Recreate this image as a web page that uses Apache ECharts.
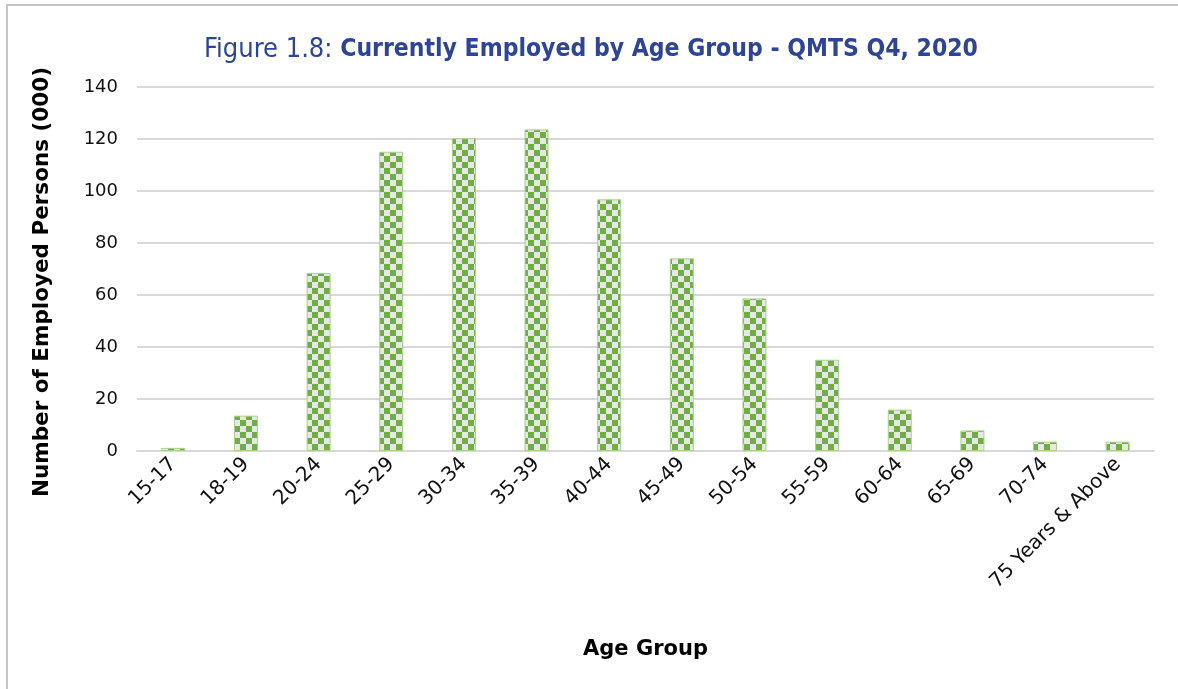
<!DOCTYPE html>
<html>
<head>
<meta charset="utf-8">
<script src="https://cdn.jsdelivr.net/npm/echarts@6/dist/echarts.min.js"></script>
<style>
  html, body { margin: 0; padding: 0; background: #fff; }
  #chart { width: 1178px; height: 689px; }
</style>
</head>
<body>
<div id="chart"></div>
<script>
// 年龄组
const ageGroups = ['15-17', '18-19', '20-24', '25-29', '30-34', '35-39', '40-44',
  '45-49', '50-54', '55-59', '60-64', '65-69', '70-74', '75 Years & Above']
// 就业人数 (000)
const employed = [1.2, 13.6, 68.5, 115.1, 120.3, 123.7, 96.8, 74.1, 58.7, 35.1, 15.9, 7.9, 3.6, 3.6]
const yTicks = [0, 20, 40, 60, 80, 100, 120, 140]

// checkerboard fill for the bars
function checker () {
  const c = document.createElement('canvas')
  c.width = 12
  c.height = 12
  const ctx = c.getContext('2d')
  ctx.fillStyle = '#e6e8e4'
  ctx.fillRect(0, 0, 12, 12)
  ctx.fillStyle = '#70ad47'
  ctx.fillRect(0, 0, 6, 6)
  ctx.fillRect(6, 6, 6, 6)
  return c
}

const font = 'DejaVu Sans'
const chart = echarts.init(document.getElementById('chart'))
chart.setOption({
  animation: false,
  title: {
    text: '{a|Figure 1.8: }{b|Currently Employed by Age Group - QMTS Q4, 2020}',
    left: 586,
    textAlign: 'center',
    top: 31,
    textStyle: {
      fontWeight: 'normal',
      rich: {
        a: { fontFamily: 'DejaVu Sans Condensed, Roboto', fontSize: 27, fontWeight: 'normal', color: '#2e4494' },
        b: { fontFamily: 'DejaVu Sans Condensed, Roboto', fontSize: 24.5, fontWeight: 'bold', color: '#2e4494' }
      }
    }
  },
  graphic: [{
    type: 'rect',
    shape: { x: 7, y: 5, width: 1300, height: 800 },
    style: { fill: 'none', stroke: '#c4c4c4', lineWidth: 2 },
    silent: true
  }],
  grid: { left: 137, right: 24, top: 87, bottom: 238 },
  xAxis: {
    type: 'category',
    data: ageGroups,
    name: 'Age Group',
    nameLocation: 'middle',
    nameGap: 188,
    nameTextStyle: { fontFamily: font, fontSize: 21, fontWeight: 'bold', color: '#000' },
    axisLine: { lineStyle: { color: '#d9d9d9', width: 2 } },
    axisTick: { show: false },
    axisLabel: { rotate: 45, fontFamily: font, fontSize: 20, color: '#111', margin: 10, interval: 0 }
  },
  yAxis: {
    type: 'value',
    min: yTicks[0],
    max: yTicks[yTicks.length - 1],
    interval: 20,
    name: 'Number of Employed Persons (000)',
    nameLocation: 'middle',
    nameGap: 84,
    nameTextStyle: { fontFamily: font, fontSize: 21.5, fontWeight: 'bold', color: '#000', padding: [0, 26, 0, 0] },
    axisLine: { show: false },
    axisTick: { show: false },
    axisLabel: { fontFamily: font, fontSize: 18, color: '#111', margin: 19 },
    splitLine: { lineStyle: { color: '#d9d9d9', width: 2 } }
  },
  series: [{
    type: 'bar',
    data: employed,
    barWidth: 24,
    itemStyle: {
      color: { image: checker(), repeat: 'repeat' },
      borderColor: '#a9d08e',
      borderWidth: 1
    }
  }]
})
</script>
</body>
</html>
